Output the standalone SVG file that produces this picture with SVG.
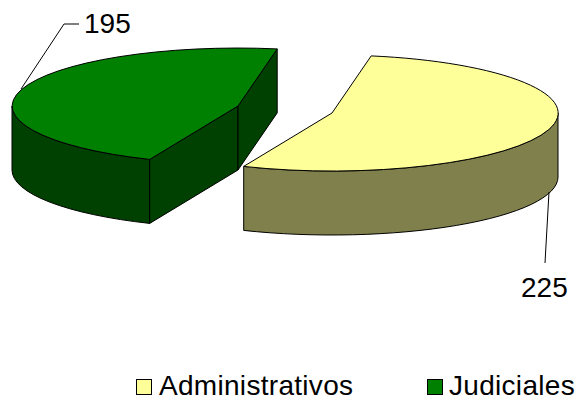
<svg xmlns="http://www.w3.org/2000/svg" width="578" height="400" viewBox="0 0 578 400">
<style>
.e{stroke:#000;stroke-width:1;stroke-linejoin:round}
.gt{fill:#008000}.gs{fill:#004000}
.yt{fill:#FFFF99}.ys{fill:#80804C}
.lead{fill:none;stroke:#000;stroke-width:1}
text{font-family:"Liberation Sans",Arial,sans-serif;font-size:28px;fill:#000}
.lg{letter-spacing:0.3px}
</style>
<rect width="578" height="400" fill="#fff"/>
<g id="slice-judiciales">
<path class="e gs" d="M 12,106 A 226 58 0 0 0 149.7,159.4 L 149.7,223.4 A 226 58 0 0 1 12,170 Z"/>
<path class="e gs" d="M 149.7,159.4 L 238,106 L 238,170 L 149.7,223.4 Z"/>
<path class="e gs" d="M 238,106 L 277.2,48.9 L 277.2,112.9 L 238,170 Z"/>
<path class="e gt" d="M 238,106 L 277.2,48.9 A 226 58 0 0 0 149.7,159.4 Z"/>
</g>
<g id="slice-administrativos">
<path class="e ys" d="M 558,113 A 226 58 0 0 1 243.7,166.4 L 243.7,230.4 A 226 58 0 0 0 558,177 Z"/>
<path class="e yt" d="M 332,113 L 371.2,55.9 A 226 58 0 1 1 243.7,166.4 Z"/>
</g>
<g id="connectors">
<polyline class="lead" points="21,89 64,24 79,24"/>
<polyline class="lead" points="549,192 545,263"/>
</g>
<g id="label-195"><text x="84" y="33">195</text></g>
<g id="label-225"><text x="521" y="297">225</text></g>
<g id="legend">
<rect x="136.5" y="379.5" width="15" height="15" fill="#FFFF99" stroke="#000"/>
<text class="lg" x="159" y="395">Administrativos</text>
<rect x="427.5" y="379.5" width="15" height="15" fill="#008000" stroke="#000"/>
<text class="lg" x="449" y="395">Judiciales</text>
</g>
</svg>
